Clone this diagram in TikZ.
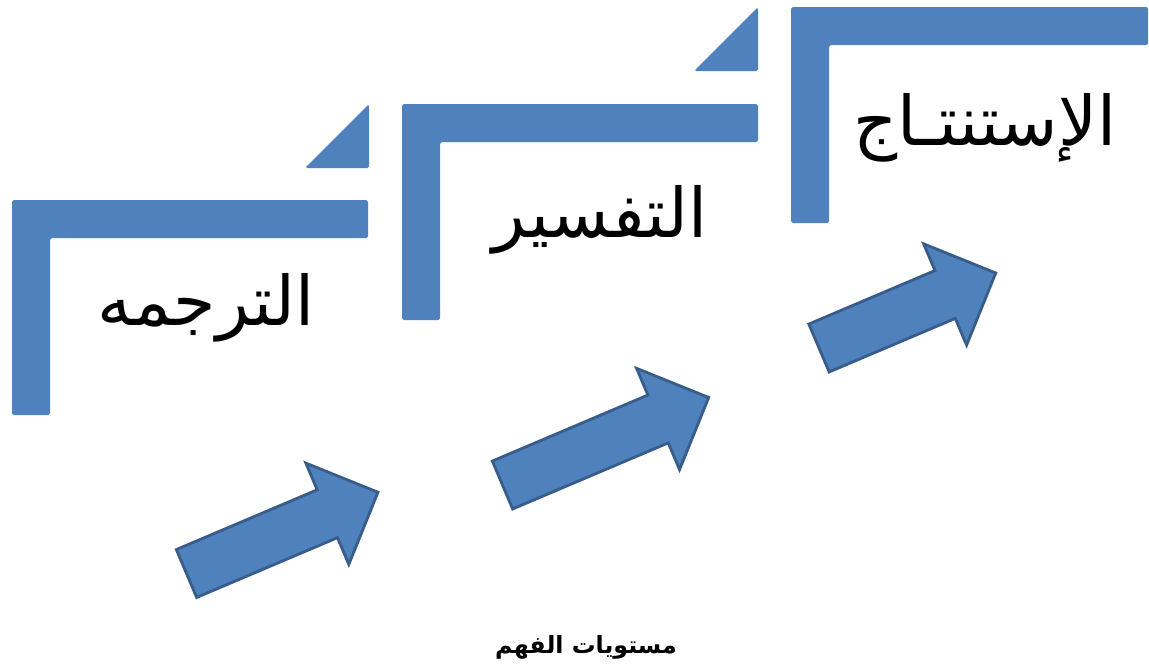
\documentclass[tikz,border=0pt]{standalone}
\usepackage{fontspec}
\newfontfamily\arabicfont[Script=Arabic]{DejaVu Sans}
\TeXXeTstate=1
\definecolor{stepblue}{RGB}{79,129,189}
\definecolor{stepedge}{RGB}{56,93,138}

% L-shaped frame: left, top, right, bottom (pixels)
\newcommand{\stepframe}[4]{%
    \fill[stepblue, rounded corners=1pt] (#1,#2) -- (#3,#2) -- (#3,#2+38) -- (#1+38,#2+38) -- (#1+38,#4) -- (#1,#4) -- cycle;}
% corner triangle: left, right, top, bottom
\newcommand{\stepcorner}[4]{%
    \fill[stepblue, rounded corners=1pt] (#1,#4) -- (#2,#4) -- (#2,#3) -- cycle;}
% block arrow: tail x, tail y, length
\newcommand{\risearrow}[3]{%
    \draw[risearr, shift={(#1,#2)}, rotate=23] (0,-26) -- (#3-55,-26) -- (#3-55,-55) -- (#3,0) -- (#3-55,55) -- (#3-55,26) -- (0,26) -- cycle;}

\begin{document}
\begin{tikzpicture}[
        x=0.02cm, y=-0.02cm,
        risearr/.style={fill=stepblue, draw=stepedge, line width=1.6pt, line join=miter},
        levelword/.style={font=\arabicfont\fontsize{39}{44}\selectfont, inner sep=0pt},
    ]
        \useasboundingbox (0,0) rectangle (1149,667);

        % Frames (step 1, 2, 3)
        \stepframe{12}{200}{368}{415}
        \stepcorner{305}{369}{104}{168}
        \stepframe{402}{104}{758}{320}
        \stepcorner{694}{758}{7}{71}
        \stepframe{791}{7}{1148}{223}

        % Arrows
        \risearrow{186.5}{573.5}{208}
        \risearrow{502.5}{485}{224}
        \risearrow{819}{348}{192}

        % Words
        \node[levelword] (TARJAMA) at (206, 308) {\beginR الترجمه\endR};
        \node[levelword] (TAFSIR) at (600, 220) {\beginR التفسير\endR};
        \node[levelword] (ISTINTAJ) at (985, 128) {\beginR الإستنتـاج\endR};
        \node[font=\arabicfont\bfseries\fontsize{13.5}{16}\selectfont, inner sep=0pt] (TITLE) at (586, 647) {\beginR مستويات الفهم\endR};
    \end{tikzpicture}
\end{document}
